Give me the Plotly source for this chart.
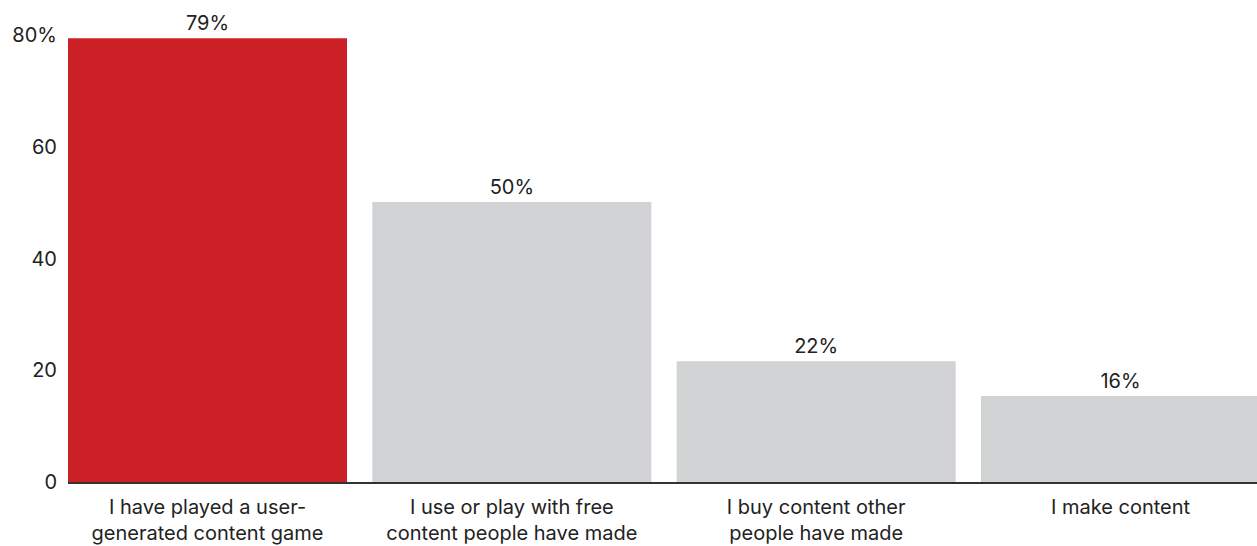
import plotly.graph_objects as go

categories = [
    "I have played a user-<br>generated content game",
    "I use or play with free<br>content people have made",
    "I buy content other<br>people have made",
    "I make content",
]
values = [79.4, 50.1, 21.6, 15.4]
value_labels = ["79%", "50%", "22%", "16%"]
bar_colors = ["#CC2027", "#D1D2D4", "#D1D2D4", "#D1D2D4"]
y_tickvals = [0, 20, 40, 60, 80]
y_ticktext = ["0", "20", "40", "60", "80%"]

FONT = "Inter"
TXT = "#222222"

fig = go.Figure(
    go.Bar(
        x=categories,
        y=values,
        marker=dict(color=bar_colors, line=dict(width=0)),
        text=value_labels,
        textposition="outside",
        textfont=dict(family=FONT, size=20, color=TXT),
        cliponaxis=False,
        hoverinfo="skip",
    )
)

fig.update_layout(
    width=1257,
    height=546,
    margin=dict(l=68, r=0, t=35, b=64),
    paper_bgcolor="white",
    plot_bgcolor="white",
    bargap=0.0832,
    showlegend=False,
    font=dict(family=FONT, size=20, color=TXT),
)
fig.update_xaxes(
    type="category",
    range=[-0.4584, 3.4486],
    showline=True,
    linecolor="#333333",
    linewidth=2,
    ticks="",
    showgrid=False,
    tickfont=dict(family=FONT, size=20, color=TXT),
    ticklabelstandoff=6,
)
fig.update_yaxes(
    range=[0, 80],
    tickvals=y_tickvals,
    ticktext=y_ticktext,
    showgrid=False,
    zeroline=False,
    showline=False,
    ticks="",
    tickfont=dict(family=FONT, size=20, color=TXT),
    ticklabelstandoff=10,
)

fig.write_html(
    "out.html",
    config={"displayModeBar": False},
    post_script="document.body.style.margin='0';document.body.style.overflow='hidden';",
)
